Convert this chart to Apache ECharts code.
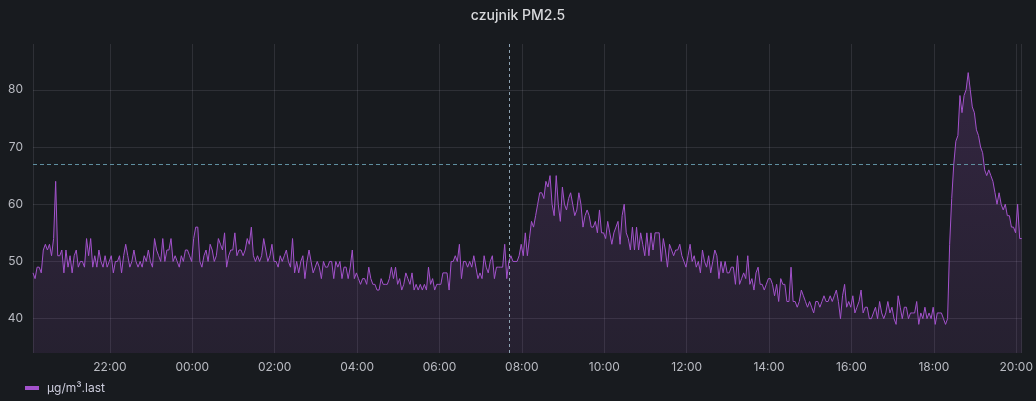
<!DOCTYPE html>
<html>
<head>
<meta charset="utf-8">
<script src="https://cdn.jsdelivr.net/npm/echarts@6/dist/echarts.min.js"></script>
<style>
  html, body { margin: 0; padding: 0; background: #181b1f; }
  #chart { width: 1036px; height: 401px; }
</style>
</head>
<body>
<div id="chart"></div>
<script>
// ---- data ----
const title = 'czujnik PM2.5';
const seriesName = 'µg/m³.last';
const startTime = [2021, 0, 1, 20, 8]; // first sample (local time)
const stepMinutes = 3;
const crosshairTime = [2021, 0, 2, 7, 42];
const thresholdValue = 67;
const yTickValues = [40, 50, 60, 70, 80];

// values per hour block (20 samples each, 3-min step)
const h01 = [48,47,49,49,48,52,53,52,53,51,54,64,51,51,52,48,52,49,51,48];
const h02 = [51,52,49,50,50,49,54,51,54,49,51,49,52,50,49,51,49,50,51,48];
const h03 = [50,50,51,48,51,53,51,49,50,52,50,49,50,49,51,50,52,50,49,54];
const h04 = [52,51,50,54,50,52,52,54,50,51,50,49,51,50,52,52,51,50,54,56];
const h05 = [56,50,49,51,52,50,53,52,50,51,54,53,52,55,49,51,52,52,55,51];
const h06 = [52,52,51,52,54,53,56,51,50,51,50,51,54,52,50,51,53,50,50,49];
const h07 = [51,50,51,52,50,49,54,48,50,48,50,51,47,50,52,50,48,49,50,49];
const h08 = [47,50,49,49,50,50,47,50,49,50,47,49,49,47,49,52,47,48,47,46];
const h09 = [47,47,46,49,47,46,46,45,45,47,46,46,46,47,49,47,49,46,47,45];
const h10 = [46,48,47,46,48,45,46,45,46,45,46,45,49,46,47,45,46,46,46,48];
const h11 = [48,48,45,50,50,51,50,53,47,50,50,49,50,49,51,49,47,48,47,51];
const h12 = [49,48,50,51,47,49,49,49,49,53,47,50,51,50,50,50,51,53,51,55];
const h13 = [51,54,57,56,58,60,62,62,61,64,63,65,60,58,65,60,57,63,60,59];
const h14 = [61,62,60,58,59,62,60,56,58,59,58,56,56,57,55,59,55,55,54,57];
const h15 = [55,53,55,56,57,53,58,60,55,54,52,56,52,56,52,55,53,51,55,51];
const h16 = [55,52,55,55,55,50,54,52,49,53,52,51,52,52,53,51,50,49,51,53];
const h17 = [50,51,49,50,48,52,50,49,51,48,50,52,51,47,50,48,50,48,48,49];
const h18 = [49,46,51,46,47,48,47,51,46,47,45,48,49,46,46,45,46,47,47,46];
const h19 = [44,46,43,47,46,46,43,43,49,43,43,42,43,45,44,43,42,43,42,41];
const h20 = [43,43,42,43,44,43,43,44,43,44,45,43,40,44,46,42,43,42,44,41];
const h21 = [42,43,45,41,42,42,40,40,41,42,40,43,41,40,41,43,41,42,40,39];
const h22 = [44,42,40,42,42,40,41,41,41,43,39,41,40,42,40,41,40,42,39,41];
const h23 = [41,41,40,39,40,53,61,67,71,72,79,76,79,80,83,80,77,76,73,72];
const h24 = [70,69,66,65,66,65,64,62,60,62,60,59,60,58,58,56,56,55,60,54,54];

const values = [].concat(h01,h02,h03,h04,h05,h06,h07,h08,h09,h10,h11,h12,
                         h13,h14,h15,h16,h17,h18,h19,h20,h21,h22,h23,h24);

// ---- build ----
const t0 = new Date(...startTime).getTime();
const step = stepMinutes * 60 * 1000;
const seriesData = values.map((v, i) => [t0 + i * step, v]);
const tEnd = t0 + (values.length - 1) * step;
const tCross = new Date(...crosshairTime).getTime();

const FONT = 'Inter, "Noto Sans", sans-serif';
const chart = echarts.init(document.getElementById('chart'), null, { renderer: 'canvas' });

chart.setOption({
  backgroundColor: '#181b1f',
  animation: false,
  title: {
    text: title,
    left: 'center',
    top: 4,
    textStyle: { color: '#d8d9dc', fontSize: 14, fontWeight: 500, fontFamily: FONT }
  },
  legend: {
    left: 20,
    top: 377,
    icon: 'rect',
    itemWidth: 14,
    itemHeight: 4,
    textStyle: { color: '#ccccdc', fontSize: 12, fontFamily: FONT, padding: [0, 0, 0, 3] },
    data: [{ name: seriesName, itemStyle: { color: '#a352cc' } }]
  },
  grid: { left: 33, right: 12, top: 44, bottom: 48, containLabel: false },
  xAxis: {
    type: 'time',
    min: t0,
    max: tEnd,
    splitNumber: 10,
    axisLine: { show: false },
    axisTick: { show: false },
    axisLabel: {
      color: '#b9bbc2',
      fontSize: 12,
      fontFamily: FONT,
      margin: 8,
      formatter: '{HH}:{mm}',
      hideOverlap: false
    },
    splitLine: { show: true, lineStyle: { color: 'rgba(204,204,220,0.12)', width: 1 } }
  },
  yAxis: {
    type: 'value',
    min: 34,
    max: 88,
    axisLine: { show: false },
    axisTick: { show: false },
    axisLabel: {
      color: '#b9bbc2',
      fontSize: 12,
      fontFamily: FONT,
      margin: 10,
      showMinLabel: false,
      showMaxLabel: false,
      formatter: v => (yTickValues.indexOf(v) >= 0 ? String(v) : '')
    },
    splitLine: {
      show: true,
      showMinLine: false,
      showMaxLine: false,
      lineStyle: { color: 'rgba(204,204,220,0.12)', width: 1 }
    }
  },
  series: [{
    name: seriesName,
    type: 'line',
    data: seriesData,
    symbol: 'none',
    showSymbol: false,
    sampling: null,
    lineStyle: { color: '#a352cc', width: 1 },
    itemStyle: { color: '#a352cc' },
    areaStyle: {
      color: new echarts.graphic.LinearGradient(0, 0, 0, 1, [
        { offset: 0, color: 'rgba(163,82,204,0.28)' },
        { offset: 1, color: 'rgba(163,82,204,0.14)' }
      ])
    },
    markLine: {
      silent: true,
      symbol: 'none',
      label: { show: false },
      data: [
        { xAxis: tCross, lineStyle: { color: '#8ea3b3', type: [3, 3], width: 1 } },
        { yAxis: thresholdValue, lineStyle: { color: '#5f8fa0', type: [4, 3], width: 1 } }
      ]
    }
  }]
});
</script>
</body>
</html>
